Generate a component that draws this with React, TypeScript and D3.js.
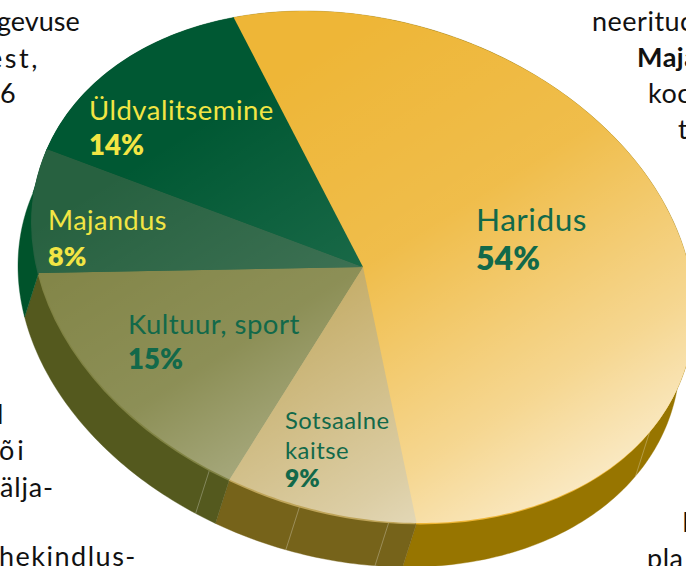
import * as d3 from 'd3';

// shares of the budget as measured off the slices, clockwise from the top
const CATEGORIES = ['Haridus', 'Sotsaalne kaitse', 'Kultuur, sport', 'Majandus', 'Üldvalitsemine'];
const SHARES = [53.8, 9.2, 15.2, 8, 13.8];

const TOP_COLORS = ['#eeb637', '#bfa55a', '#808344', '#276140', '#005833'];
const SIDE_COLORS = ['#977500', '#76631a', '#54591e', '#00532b', '#00532b'];

// thin light lines on the rim, as angle on the pie in degrees
const SEAM_ANGLES = [120, 175.5, 191, 207.6];

const LABELS = [
  { lines: ['Haridus'], x: 476, y: 231, size: 31.6, pctY: 270, pctSize: 32, color: '#12694a' },
  { lines: ['Sotsaalne', 'kaitse'], x: 285, y: 429, size: 23.8, pctY: 487, pctSize: 24.5, color: '#12694a', lineGap: 29.5 },
  { lines: ['Kultuur, sport'], x: 128, y: 334, size: 27.5, pctY: 369, pctSize: 27.5, color: '#12694a' },
  { lines: ['Majandus'], x: 48, y: 230, size: 27, pctY: 266, pctSize: 27, color: '#f2e544' },
  { lines: ['Üldvalitsemine'], x: 89, y: 120, size: 27.5, pctY: 155, pctSize: 27.5, color: '#f2e544' },
];

// body text of the page around the chart, cut off by the crop
const PAGE_TEXT = [
  { text: 'gevuse', x: -3, y: 31, spacing: 0 },
  { text: 'est,', x: -12, y: 68, spacing: 2.5 },
  { text: '6', x: 0, y: 103 },
  { text: 'neerituc', x: 592, y: 31 },
  { text: 'Maja', x: 637, y: 67, bold: true },
  { text: 'koc', x: 648, y: 103 },
  { text: 't', x: 678, y: 139 },
  { text: 'l', x: -3, y: 424 },
  { text: 'õi', x: -1, y: 460, spacing: 3 },
  { text: 'älja-', x: 0, y: 497, spacing: 0.8 },
  { text: 'hekindlus-', x: -1, y: 566, spacing: 1.5 },
  { text: 'H', x: 682, y: 532 },
  { text: 'pla', x: 647, y: 568 },
];

const WIDTH = 686;
const HEIGHT = 566;
const CX = 363;
const CY = 267;
const RX = 331;
const RY = 252;
const SKEW = 45; // the ellipse leans, y also moves with sin(a)
const DEPTH_X = -14;
const DEPTH_Y = 44;
const R = 1000;

const FONT = 'Lato, sans-serif';
const rad = (deg: number) => (deg * Math.PI) / 180;

// pie angle -> screen point on the top rim
const rim = (a: number): [number, number] => [
  CX + RX * Math.sin(a),
  CY + SKEW * Math.sin(a) - RY * Math.cos(a),
];

const pie = d3
  .pie<number>()
  .sort(null)
  .value(d => d)
  .startAngle(rad(-23))
  .endAngle(rad(337));

const arc = d3.arc<d3.PieArcDatum<number>>().innerRadius(0).outerRadius(R);
const line = d3.line();

function sampleRim(a0: number, a1: number) {
  const n = Math.max(2, Math.ceil(Math.abs(a1 - a0) * 60));
  return d3.range(n + 1).map(i => rim(a0 + ((a1 - a0) * i) / n));
}

function sidePath(a0: number, a1: number) {
  const top = sampleRim(a0, a1);
  const bottom = top
    .map(([x, y]): [number, number] => [x + DEPTH_X, y + DEPTH_Y])
    .reverse();
  return line([...top, ...bottom]) + 'Z';
}

export default function App() {
  const slices = pie(SHARES);
  const faceTransform = `matrix(${RX / R},${SKEW / R},0,${RY / R},${CX},${CY})`;
  const ellipsePath = line(sampleRim(0, Math.PI * 2)) + 'Z';

  return (
    <svg
      width={WIDTH}
      height={HEIGHT}
      viewBox={`0 0 ${WIDTH} ${HEIGHT}`}
      style={{ position: 'fixed', left: 0, top: 0, background: '#fff' }}
    >
      <defs>
        <linearGradient id="sheen" gradientUnits="userSpaceOnUse" x1={300} y1={60} x2={600} y2={540}>
          <stop offset="0" stopColor="#fff" stopOpacity={0} />
          <stop offset="0.37" stopColor="#fff" stopOpacity={0.1} />
          <stop offset="0.72" stopColor="#fff" stopOpacity={0.45} />
          <stop offset="0.91" stopColor="#fff" stopOpacity={0.7} />
          <stop offset="1" stopColor="#fff" stopOpacity={0.8} />
        </linearGradient>
      </defs>

      <g fontFamily={FONT} fontSize={27} fill="#111">
        {PAGE_TEXT.map(d => (
          <text
            key={d.text}
            x={d.x}
            y={d.y}
            fontWeight={d.bold ? 700 : 400}
            letterSpacing={d.spacing ?? 0.5}
          >
            {d.text}
          </text>
        ))}
      </g>

      <g>
        {slices.map((s, i) => (
          <path
            key={CATEGORIES[i]}
            d={sidePath(s.startAngle, s.endAngle)}
            fill={SIDE_COLORS[i]}
            stroke={SIDE_COLORS[i]}
            strokeWidth={0.4}
          />
        ))}
        {SEAM_ANGLES.map(deg => {
          const [x, y] = rim(rad(deg));
          return (
            <line
              key={deg}
              x1={x}
              y1={y}
              x2={x + DEPTH_X}
              y2={y + DEPTH_Y}
              stroke="#fff"
              strokeOpacity={0.35}
              strokeWidth={0.8}
            />
          );
        })}
      </g>

      {/* rim highlight, a flat copy of the face just under it */}
      <g transform={`translate(-0.8,1.4) ${faceTransform}`}>
        {slices.map((s, i) => (
          <path key={CATEGORIES[i]} d={arc(s) ?? ''} fill={TOP_COLORS[i]} />
        ))}
      </g>

      <g transform={faceTransform}>
        {slices.map((s, i) => (
          <path key={CATEGORIES[i]} d={arc(s) ?? ''} fill={TOP_COLORS[i]} />
        ))}
      </g>
      <path d={ellipsePath} fill="url(#sheen)" />

      <g fontFamily={FONT}>
        {LABELS.map((d, i) => (
          <text key={CATEGORIES[i]} fill={d.color} fontSize={d.size}>
            {d.lines.map((l, j) => (
              <tspan key={l} x={d.x} y={d.y + j * (d.lineGap ?? 0)} letterSpacing={0.5}>
                {l}
              </tspan>
            ))}
            <tspan x={d.x} y={d.pctY} fontSize={d.pctSize} fontWeight={800}>
              {Math.round(SHARES[i])}%
            </tspan>
          </text>
        ))}
      </g>
    </svg>
  );
}
